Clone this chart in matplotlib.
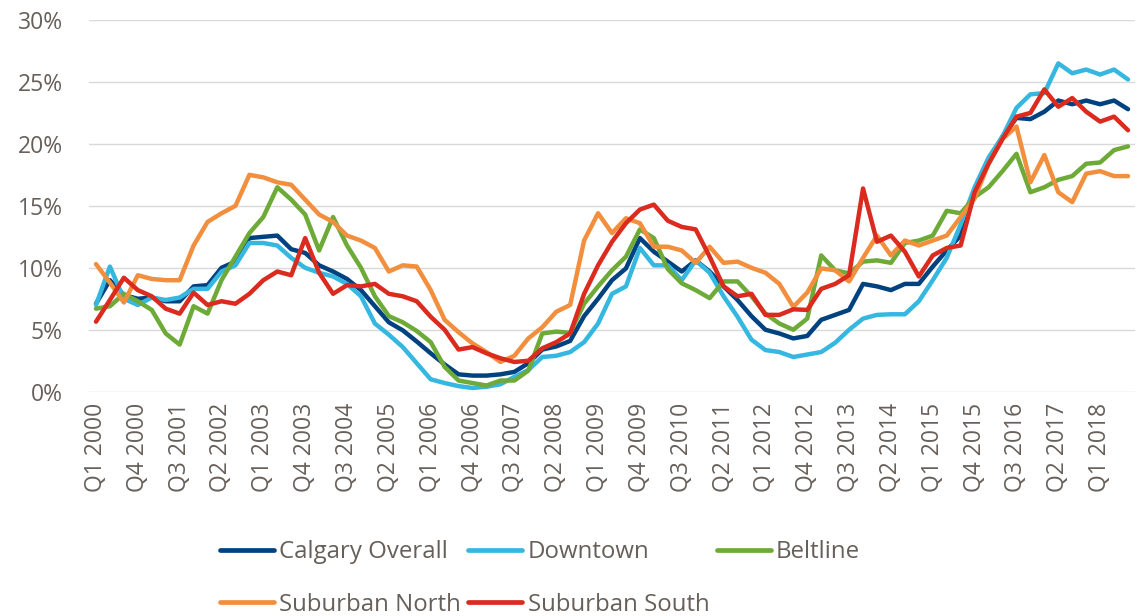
import matplotlib
matplotlib.use("Agg")
import matplotlib.pyplot as plt
from matplotlib.ticker import FuncFormatter, MultipleLocator

# quarterly vacancy-style rates, Q1 2000 .. Q3 2018 (percent)
quarters = [f"Q{q} {y}" for y in range(2000, 2019) for q in range(1, 5)][:75]

calgary_overall = [
    7.1, 9.0, 7.8, 7.5, 7.6, 7.3, 7.3, 8.5, 8.6, 10.0,
    10.5, 12.4, 12.5, 12.6, 11.5, 11.2, 10.2, 9.7, 9.1, 8.2,
    6.9, 5.6, 4.95, 4.05, 3.1, 2.2, 1.4, 1.3, 1.3, 1.4,
    1.6, 2.3, 3.4, 3.65, 4.1, 6.1, 7.5, 9.0, 9.95, 12.4,
    11.3, 10.5, 9.7, 10.6, 9.7, 8.5, 7.4, 6.1, 5.0, 4.7,
    4.3, 4.5, 5.8, 6.2, 6.6, 8.7, 8.5, 8.2, 8.7, 8.7,
    10.1, 11.4, 12.6, 16.0, 18.6, 20.6, 22.1, 22.0, 22.6, 23.5,
    23.2, 23.5, 23.2, 23.5, 22.8,
]
downtown = [
    7.0, 10.1, 7.5, 7.0, 7.6, 7.4, 7.6, 8.3, 8.3, 9.7,
    10.2, 12.0, 12.0, 11.8, 10.8, 10.0, 9.6, 9.3, 8.7, 7.7,
    5.5, 4.6, 3.6, 2.3, 1.0, 0.7, 0.45, 0.3, 0.4, 0.6,
    1.2, 1.75, 2.8, 2.9, 3.2, 4.0, 5.5, 7.9, 8.5, 11.6,
    10.2, 10.2, 9.0, 10.6, 9.6, 7.7, 6.05, 4.2, 3.36, 3.2,
    2.8, 3.0, 3.2, 3.95, 5.0, 5.9, 6.2, 6.25, 6.25, 7.3,
    9.0, 10.8, 13.5, 16.5, 18.9, 20.6, 22.9, 24.0, 24.1, 26.5,
    25.7, 26.0, 25.6, 26.0, 25.2,
]
beltline = [
    6.7, 6.9, 7.9, 7.3, 6.6, 4.7, 3.8, 6.9, 6.3, 9.0,
    10.9, 12.8, 14.1, 16.5, 15.5, 14.3, 11.4, 14.1, 11.8, 10.0,
    7.7, 6.1, 5.6, 4.9, 4.0, 2.0, 0.9, 0.7, 0.5, 0.9,
    0.9, 1.7, 4.7, 4.85, 4.75, 7.1, 8.5, 9.8, 10.9, 13.1,
    12.4, 9.9, 8.75, 8.2, 7.55, 8.9, 8.9, 7.7, 6.3, 5.5,
    5.0, 5.9, 11.0, 9.8, 9.55, 10.5, 10.6, 10.4, 12.0, 12.2,
    12.6, 14.6, 14.4, 15.7, 16.5, 17.8, 19.2, 16.1, 16.5, 17.1,
    17.4, 18.4, 18.5, 19.5, 19.8,
]
suburban_north = [
    10.3, 8.8, 7.2, 9.4, 9.1, 9.0, 9.0, 11.8, 13.7, 14.4,
    15.0, 17.5, 17.3, 16.9, 16.7, 15.5, 14.3, 13.7, 12.6, 12.2,
    11.6, 9.7, 10.2, 10.1, 8.2, 5.8, 4.8, 3.9, 3.2, 2.4,
    2.9, 4.3, 5.2, 6.45, 7.0, 12.2, 14.4, 12.8, 14.0, 13.6,
    11.7, 11.7, 11.4, 10.4, 11.7, 10.4, 10.5, 10.0, 9.6, 8.7,
    6.85, 8.0, 9.95, 9.8, 8.9, 10.8, 12.6, 11.0, 12.2, 11.8,
    12.2, 12.6, 14.1, 15.6, 18.4, 20.4, 21.4, 16.9, 19.1, 16.1,
    15.3, 17.6, 17.8, 17.4, 17.4,
]
suburban_south = [
    5.65, 7.4, 9.2, 8.2, 7.7, 6.7, 6.3, 8.0, 7.0, 7.3,
    7.1, 7.9, 9.0, 9.7, 9.4, 12.4, 9.6, 7.9, 8.6, 8.5,
    8.7, 7.9, 7.7, 7.3, 6.05, 5.0, 3.4, 3.6, 3.1, 2.7,
    2.4, 2.5, 3.5, 4.0, 4.7, 7.9, 10.2, 12.1, 13.6, 14.7,
    15.1, 13.8, 13.3, 13.1, 10.9, 8.5, 7.7, 7.9, 6.2, 6.2,
    6.65, 6.6, 8.3, 8.7, 9.4, 16.4, 12.1, 12.6, 11.3, 9.3,
    11.0, 11.6, 11.8, 16.1, 18.4, 20.4, 22.2, 22.5, 24.4, 23.0,
    23.7, 22.6, 21.8, 22.2, 21.1,
]

series = [
    ("Calgary Overall", calgary_overall, "#00427f"),
    ("Downtown", downtown, "#35b7e0"),
    ("Beltline", beltline, "#6eaa37"),
    ("Suburban North", suburban_north, "#f28f3e"),
    ("Suburban South", suburban_south, "#db2a1e"),
]

text_color = "#675f59"
plt.rcParams["font.family"] = ["Open Sans", "DejaVu Sans"]

fig = plt.figure(figsize=(11.38, 6.16), dpi=100)
ax = fig.add_axes([89 / 1138, 1 - 391.7 / 616, 1046 / 1138, 371.7 / 616])

x = list(range(len(quarters)))
lines = {}
for name, vals, col in series:
    lines[name], = ax.plot(x, vals, color=col, lw=3.2, label=name,
                           solid_capstyle="round", solid_joinstyle="round")

ax.set_xlim(-0.5, len(quarters) - 0.5)
ax.set_ylim(0, 30)
ax.yaxis.set_major_locator(MultipleLocator(5))
ax.yaxis.set_major_formatter(FuncFormatter(lambda v, p: f"{v:.0f}%"))
ax.set_xticks(x[::3])
ax.set_xticklabels(quarters[::3], rotation=90)

ax.grid(axis="y", color="#d9d9d9", lw=1.0)
ax.set_axisbelow(True)
for s in ax.spines.values():
    s.set_visible(False)
ax.tick_params(axis="both", length=0, labelsize=16.5, colors=text_color)
ax.tick_params(axis="y", pad=19)
ax.tick_params(axis="x", pad=8)

# matplotlib fills legend columns first; order so rows read like the original
order = ["Calgary Overall", "Suburban North", "Downtown", "Suburban South", "Beltline"]
leg = fig.legend([lines[n] for n in order], order,
                 loc="upper left", bbox_to_anchor=(220 / 1138, 1 - 540 / 616),
                 ncol=3, frameon=False, fontsize=17.3, handlelength=2.25,
                 handletextpad=0.22, columnspacing=0.3, labelspacing=1.2,
                 borderpad=0, borderaxespad=0)
for t in leg.get_texts():
    t.set_color(text_color)
for h in leg.get_lines():
    h.set_linewidth(3.4)

fig.savefig("out.png", dpi=100)
